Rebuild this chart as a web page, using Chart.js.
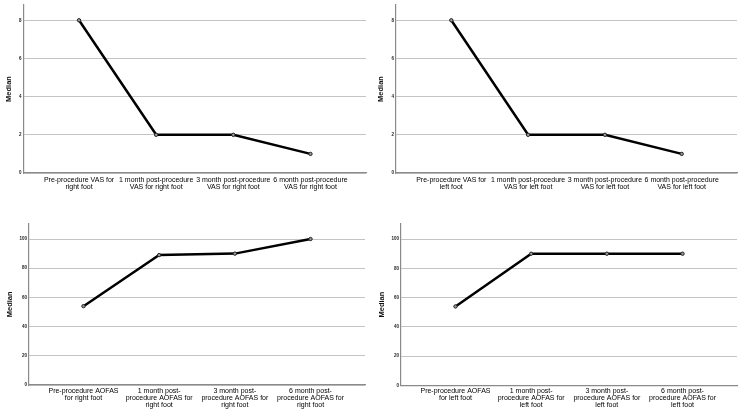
<!DOCTYPE html>
<html>
<head>
<meta charset="utf-8">
<script src="https://cdn.jsdelivr.net/npm/chart.js@4/dist/chart.umd.min.js"></script>
<style>
  html, body { margin: 0; padding: 0; background: #fff; }
  #wrap { position: relative; width: 750px; height: 416px; overflow: hidden; }
  .panel { position: absolute; width: 375px; height: 208px; }
</style>
</head>
<body>
<div id="wrap">
  <div class="panel" style="left:0;top:0"><canvas id="c1" width="375" height="208"></canvas></div>
  <div class="panel" style="left:375px;top:0"><canvas id="c2" width="375" height="208"></canvas></div>
  <div class="panel" style="left:0;top:208px"><canvas id="c3" width="375" height="208"></canvas></div>
  <div class="panel" style="left:375px;top:208px"><canvas id="c4" width="375" height="208"></canvas></div>
</div>
<script>
// ---- data ----
const vasRightLabels = [
  ["Pre-procedure VAS for", "right foot"],
  ["1 month post-procedure", "VAS for right foot"],
  ["3 month post-procedure", "VAS for right foot"],
  ["6 month post-procedure", "VAS for right foot"]
];
const vasLeftLabels = [
  ["Pre-procedure VAS for", "left foot"],
  ["1 month post-procedure", "VAS for left foot"],
  ["3 month post-procedure", "VAS for left foot"],
  ["6 month post-procedure", "VAS for left foot"]
];
const aofasRightLabels = [
  ["Pre-procedure AOFAS", "for right foot"],
  ["1 month post-", "procedure AOFAS for", "right foot"],
  ["3 month post-", "procedure AOFAS for", "right foot"],
  ["6 month post-", "procedure AOFAS for", "right foot"]
];
const aofasLeftLabels = [
  ["Pre-procedure AOFAS", "for left foot"],
  ["1 month post-", "procedure AOFAS for", "left foot"],
  ["3 month post-", "procedure AOFAS for", "left foot"],
  ["6 month post-", "procedure AOFAS for", "left foot"]
];
const vasRightMedian = [8, 2, 2, 1];
const vasLeftMedian = [8, 2, 2, 1];
const aofasRightMedian = [54, 89, 90, 100];
const aofasLeftMedian = [54, 90, 90, 90];
const vasTicks = [0, 2, 4, 6, 8];
const aofasTicks = [0, 20, 40, 60, 80, 100];
const yTitle = "Median";

const FONT = "'Liberation Sans', Arial, Helvetica, sans-serif";

function makeChart(id, labels, values, yTicks, yMax, box) {
  const ctx = document.getElementById(id);
  const pts = values.map((v, i) => ({ x: i, y: v }));
  return new Chart(ctx, {
    type: 'line',
    data: {
      datasets: [{
        data: pts,
        borderColor: '#000',
        borderWidth: 2.5,
        pointRadius: 1.7,
        pointBorderWidth: 1,
        pointBorderColor: '#222',
        pointBackgroundColor: '#999',
        tension: 0,
        fill: false
      }]
    },
    options: {
      responsive: false,
      animation: false,
      events: [],
      layout: { padding: { left: 0, top: box.T, right: 375 - box.R, bottom: 0 } },
      plugins: { legend: { display: false }, tooltip: { enabled: false } },
      scales: {
        x: {
          type: 'linear',
          min: -0.72,
          max: 3.72,
          grid: { display: false, drawTicks: false },
          border: { display: true, color: '#8a8a8a', width: 1.2 },
          afterBuildTicks: (s) => { s.ticks = [0, 1, 2, 3].map(v => ({ value: v })); },
          afterFit: (s) => { s.height = 208 - box.B; s.paddingLeft = 0; s.paddingRight = 0; },
          ticks: {
            autoSkip: false,
            maxRotation: 0,
            minRotation: 0,
            padding: box.xpad,
            color: '#000',
            font: { family: FONT, size: 7, lineHeight: 1.0 },
            callback: (v) => labels[Math.round(v)]
          }
        },
        y: {
          type: 'linear',
          min: 0,
          max: yMax,
          grid: { color: '#c4c4c4', lineWidth: 1, drawTicks: false },
          border: { display: true, color: '#8a8a8a', width: 1.2 },
          afterBuildTicks: (s) => { s.ticks = yTicks.map(v => ({ value: v })); },
          afterFit: (s) => { s.width = box.L; s.paddingTop = 0; s.paddingBottom = 0; },
          ticks: {
            padding: 2,
            color: '#222',
            font: { family: FONT, size: 4.5, weight: 'bold' }
          },
          title: {
            display: true,
            text: yTitle,
            color: '#111',
            padding: { top: box.tpad, bottom: 0 },
            font: { family: FONT, size: 7.5, weight: 'bold', lineHeight: 1.0 }
          }
        }
      }
    }
  });
}

makeChart('c1', vasRightLabels, vasRightMedian, vasTicks, 8.8, { L: 23.5, R: 366, T: 5, B: 173, xpad: 3.5, tpad: 5.5 });
makeChart('c2', vasLeftLabels, vasLeftMedian, vasTicks, 8.8, { L: 21, R: 362, T: 5, B: 173, xpad: 3.5, tpad: 2.5 });
makeChart('c3', aofasRightLabels, aofasRightMedian, aofasTicks, 110.5, { L: 29, R: 365, T: 15.7, B: 177, xpad: 2.5, tpad: 6.5 });
makeChart('c4', aofasLeftLabels, aofasLeftMedian, aofasTicks, 110.5, { L: 26, R: 362, T: 15.7, B: 177.5, xpad: 2.5, tpad: 3 });
</script>
</body>
</html>
